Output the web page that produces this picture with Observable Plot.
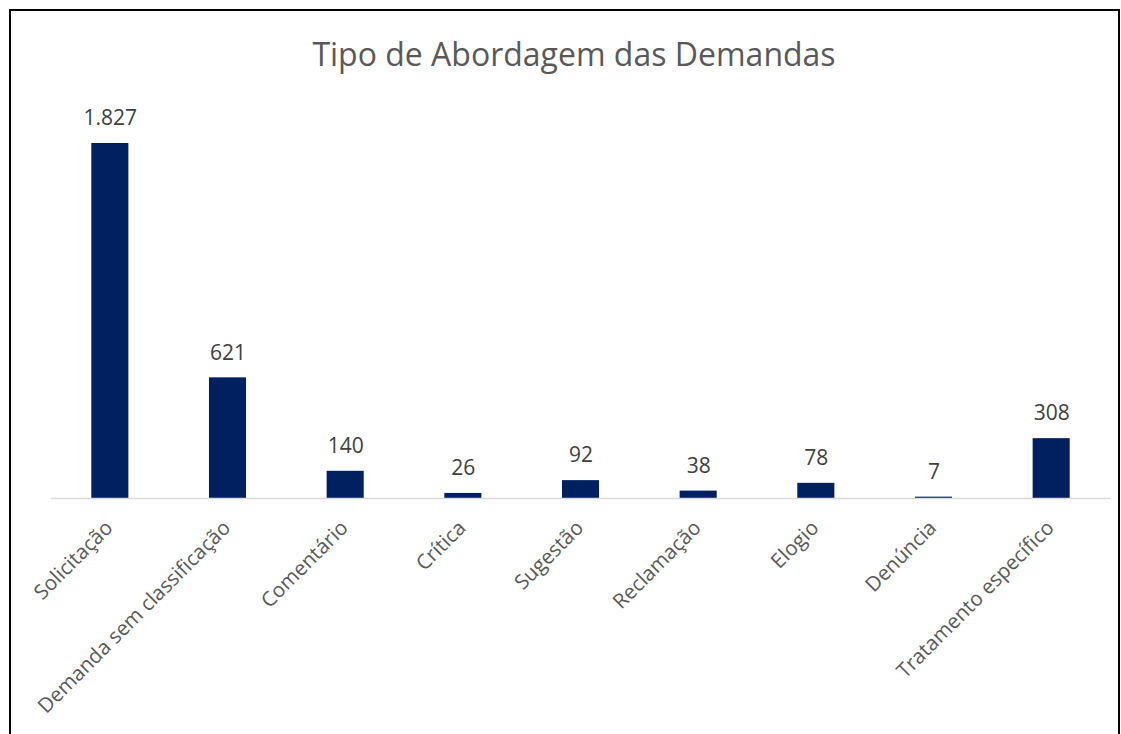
<!DOCTYPE html>
<html>
<head>
<meta charset="utf-8">
<script src="https://cdn.jsdelivr.net/npm/d3@7"></script>
<script src="https://cdn.jsdelivr.net/npm/@observablehq/plot@0.6"></script>
<style>
  html, body { margin: 0; padding: 0; background: #fff; }
  body { width: 1121px; height: 734px; position: relative; overflow: hidden; font-family: "Open Sans", sans-serif; }
  #frame { position: absolute; left: 9px; top: 9px; width: 1107px; height: 800px; border: 2px solid #000; box-sizing: content-box; }
  #title { position: absolute; left: 0; width: 1148px; top: 31px; text-align: center; font-size: 32px; color: #595959; line-height: 46px; }
  #chart { position: absolute; left: 0; top: 0; }
</style>
</head>
<body>
<div id="frame"></div>
<div id="title">Tipo de Abordagem das Demandas</div>
<div id="chart"></div>
<script>
const categories = ["Solicitação", "Demanda sem classificação", "Comentário", "Crítica", "Sugestão", "Reclamação", "Elogio", "Denúncia", "Tratamento específico"];
const values = [1827, 621, 140, 26, 92, 38, 78, 7, 308];
const valueLabels = ["1.827", "621", "140", "26", "92", "38", "78", "7", "308"];

const data = categories.map((c, i) => ({category: c, value: values[i], label: valueLabels[i]}));

const chart = Plot.plot({
  width: 1121,
  height: 734,
  marginLeft: 51,
  marginRight: 11,
  marginTop: 143,
  marginBottom: 236,
  style: {fontFamily: "Open Sans, sans-serif", background: "transparent"},
  x: {domain: categories, paddingInner: 0.685, paddingOuter: 0.3425, round: false, axis: null},
  y: {domain: [0, 1827], axis: null},
  marks: [
    Plot.barY(data, {x: "category", y: "value", fill: "#002060"}),
    Plot.ruleY([0], {stroke: "#d9d9d9", strokeWidth: 1.5}),
    Plot.text(data, {x: "category", y: "value", text: "label", dy: -25, fontSize: 21, fill: "#404040"}),
    Plot.text(data, {x: "category", y: () => 0, text: "category", rotate: -45, textAnchor: "end", lineAnchor: "middle", dx: -1, dy: 26, fontSize: 20.5, fill: "#595959"})
  ]
});
document.getElementById("chart").appendChild(chart);
</script>
</body>
</html>
